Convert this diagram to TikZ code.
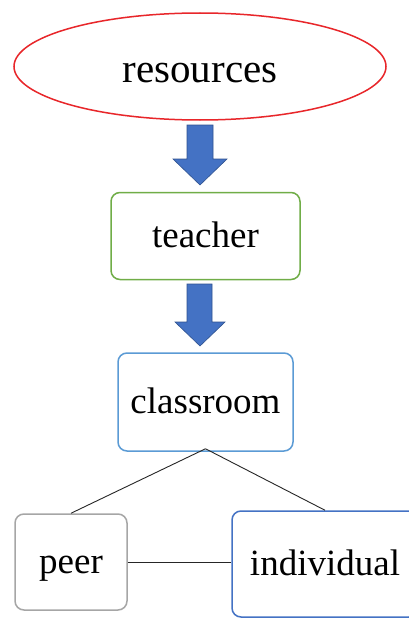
\documentclass[tikz,border=0pt]{standalone}
\usepackage{fontspec}
\setmainfont{Liberation Serif}
\usetikzlibrary{calc,shapes.geometric}
\definecolor{resred}{HTML}{E8262A}
\definecolor{teachgreen}{HTML}{70AD47}
\definecolor{classblue}{HTML}{5B9BD5}
\definecolor{indblue}{HTML}{4472C4}
\definecolor{arrowblue}{HTML}{4472C4}
\definecolor{arrowedge}{HTML}{2F528F}
\definecolor{peergray}{HTML}{A6A6A6}
\tikzset{
  box/.style={draw, line width=1.5pt, rounded corners=9pt, inner sep=0pt, text height=22pt, text depth=0pt, font=\fontsize{37}{40}\selectfont},
  blockarrow/.style={fill=arrowblue, draw=arrowedge, line width=0.6pt},
  link/.style={draw=black!85, line width=0.9pt}
}
\begin{document}
\begin{tikzpicture}[x=1pt,y=-1pt]
\useasboundingbox (0,0) rectangle (409,618);
\clip (0,0) rectangle (409,618);
\fill[white] (0,0) rectangle (409,618);
\node[draw=resred, line width=1.5pt, ellipse, minimum width=372pt, minimum height=107pt, inner sep=0pt, text height=31pt, text depth=0pt, font=\fontsize{41}{44}\selectfont] (res) at (200,66.5) {resources};
\node[box, draw=teachgreen, minimum width=189pt, minimum height=87pt] (teach) at (205.5,236) {teacher};
\node[box, draw=classblue, minimum width=175pt, minimum height=98pt] (class) at (205.5,402) {classroom};
\node[box, draw=peergray, minimum width=112pt, minimum height=96pt] (peer) at (71,562) {peer};
\node[box, draw=indblue, minimum width=186pt, minimum height=106pt] (ind) at (325,564) {individual};
% block arrows
\path[blockarrow] (187,125) -- (213,125) -- (213,159) -- (227,159) -- (200,185) -- (173,159) -- (187,159) -- cycle;
\path[blockarrow] (187,284) -- (212,284) -- (212,322) -- (225,322) -- (200,346) -- (175,322) -- (187,322) -- cycle;
% connectors
\coordinate (apex) at ($(class.south)+(0,-3)$);
\draw[link] (apex) -- (peer.north);
\draw[link] (apex) -- (ind.north);
\draw[link] (peer.east) -- (peer.east -| ind.west);
\end{tikzpicture}
\end{document}
